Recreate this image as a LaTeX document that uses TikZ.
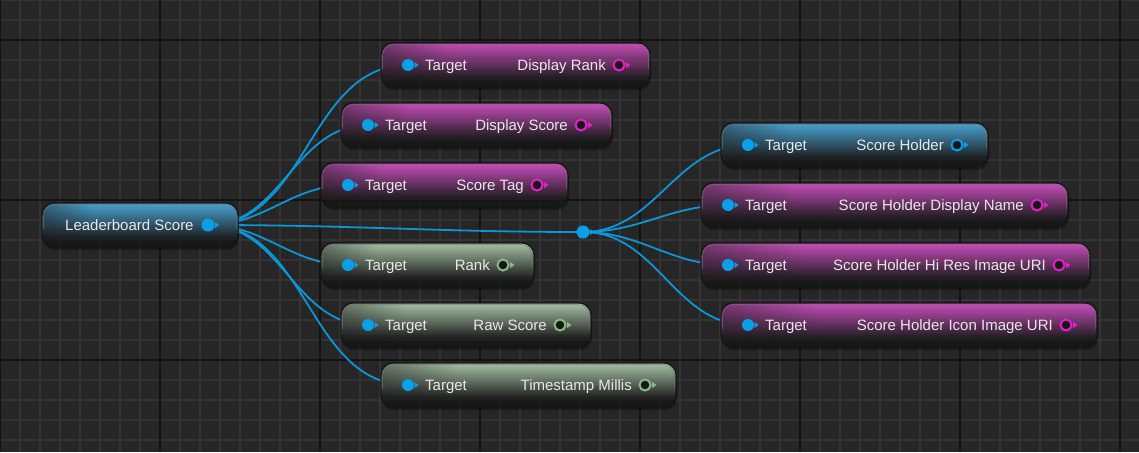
\documentclass[tikz,border=0pt]{standalone}
\usepackage{fontspec}
\setmainfont{Liberation Sans}
\usetikzlibrary{calc}

\definecolor{canvasbg}{RGB}{38,38,38}
\definecolor{gridminor}{RGB}{52,52,52}
\definecolor{gridmajor}{RGB}{19,19,19}
\definecolor{pinblue}{RGB}{10,160,232}
\definecolor{wireblue}{RGB}{12,150,215}
\definecolor{pinmag}{RGB}{228,30,200}
\definecolor{pingreen}{RGB}{135,185,135}
\definecolor{glowmag}{RGB}{200,78,188}
\definecolor{glowgreen}{RGB}{165,192,165}
\definecolor{glowblue}{RGB}{72,162,210}
\definecolor{bodyfill}{RGB}{24,24,24}
\definecolor{bandend}{RGB}{28,28,28}
\definecolor{pinhole}{RGB}{22,22,22}
\definecolor{labeltext}{RGB}{232,232,232}

% one row of the header band: glow colour in the middle, body colour at both ends
\colorlet{glowcol}{glowmag}
\pgfdeclarehorizontalshading[glowcol,bandend]{glowband}{100bp}{color(0bp)=(bandend); color(9bp)=(bandend); color(38bp)=(glowcol); color(84bp)=(glowcol); color(98bp)=(bandend); color(100bp)=(bandend)}

\pgfdeclarelayer{gridlayer}
\pgfdeclarelayer{wirelayer}
\pgfsetlayers{gridlayer,wirelayer,main}

\tikzset{
  nodebox/.style={draw=black!92, line width=1.2pt, fill=bodyfill, fill opacity=.75,
    rounded corners=12pt, minimum height=44pt, inner sep=0pt, outer sep=0pt},
  nodeshadow/.style={fill=black, opacity=.3, rounded corners=12pt},
  nodehl/.style={draw=white!45!black, line width=.8pt, opacity=.55, rounded corners=11pt},
  inpinstyle/.style={circle, fill=pinblue, minimum size=12pt, inner sep=0pt, outer sep=0pt},
  outpinstyle/.style={circle, fill=pinhole, minimum size=11pt, inner sep=0pt, outer sep=0pt, line width=2pt},
  reroutestyle/.style={circle, fill=pinblue, minimum size=13pt, inner sep=0pt, outer sep=0pt},
  lbl/.style={text=labeltext, inner sep=0pt, font=\fontsize{15}{18}\selectfont},
  wire/.style={draw=wireblue, line width=1.8pt, out=0, in=180},
}

% body of a blueprint node: #1 name, #2 left, #3 top, #4 right, #5 glow colour
\newcommand\nodebody[5]{%
  \pgfmathsetmacro\nbw{#4-#2}%
  \fill[nodeshadow] (#2+1,#3+3) rectangle (#4+1,#3+47);
  \node[nodebox, minimum width=\nbw pt, anchor=north west] (#1) at (#2,#3) {};
  \begin{scope}
    \clip[rounded corners=12pt] (#2+.6,#3+.6) rectangle (#4-.6,#3+43.4);
    \foreach \i [evaluate=\i as \k using {int(max(0,100-5.7*\i))}] in {0,...,17}{
      \colorlet{glowcol}{#5!\k!bandend}%
      \shade[shading=glowband] (#2,#3+2*\i) rectangle (#4,#3+2*\i+2.6);
    }
  \end{scope}
  \draw[nodehl] (#2+1.6,#3+26) -- (#2+1.6,#3+1.6) -- (#4-1.6,#3+1.6) -- (#4-1.6,#3+26);
}

% connected input pin with its arrow
\newcommand\inpin[2]{%
  \node[inpinstyle] (#1) at (#2) {};
  \fill[pinblue] ($(#1.center)+(6.5,-3)$) -- ++(4,3) -- ++(-4,3) -- cycle;
}
% open output pin: #1 name, #2 position, #3 colour
\newcommand\outpin[3]{%
  \node[outpinstyle, draw=#3] (#1) at (#2) {};
  \fill[#3] ($(#1.center)+(7,-3.2)$) -- ++(4.5,3.2) -- ++(-4.5,3.2) -- cycle;
}
% getter node: #1 name, #2 left, #3 top, #4 right, #5 glow colour, #6 pin colour, #7 output label
\newcommand\getter[7]{%
  \nodebody{#1}{#2}{#3}{#4}{#5}
  \inpin{#1-in}{#2+27,#3+22}
  \outpin{#1-out}{#4-31,#3+22}{#6}
  \node[lbl, anchor=base west] at ($(#1-in.center)+(17,5.5)$) {Target};
  \node[lbl, anchor=base east] at ($(#1-out.center)+(-13,5.5)$) {#7};
}

\begin{document}
\begin{tikzpicture}[x=1pt, y=-1pt]
\useasboundingbox (0,0) rectangle (1139,452);

\begin{pgfonlayer}{gridlayer}
  \fill[canvasbg] (0,0) rectangle (1139,452);
  \foreach \gx in {0,20,...,1139} \draw[gridminor, line width=1.6pt] (\gx,0) -- (\gx,452);
  \foreach \gy in {0,20,...,452} \draw[gridminor, line width=1.6pt] (0,\gy) -- (1139,\gy);
  \foreach \gx in {0,160,...,1139} \draw[gridmajor, line width=2.2pt] (\gx,0) -- (\gx,452);
  \foreach \gy in {40,200,360} \draw[gridmajor, line width=2.2pt] (0,\gy) -- (1139,\gy);
\end{pgfonlayer}

% source node
\nodebody{ls}{42}{203}{238}{glowblue}
\node[inpinstyle, minimum size=13pt] (ls-out) at (208,225) {};
\fill[pinblue] ($(ls-out.center)+(7,-3)$) -- ++(4,3) -- ++(-4,3) -- cycle;
\node[lbl, anchor=base west] at (65,230.5) {Leaderboard Score};

% getters on the leaderboard score
\getter{drank}{381}{43}{650}{glowmag}{pinmag}{Display Rank}
\getter{dscore}{341}{103}{612}{glowmag}{pinmag}{Display Score}
\getter{stag}{321}{163}{568}{glowmag}{pinmag}{Score Tag}
\getter{rank}{321}{243}{534}{glowgreen}{pingreen}{Rank}
\getter{raw}{341}{303}{591}{glowgreen}{pingreen}{Raw Score}
\getter{tstamp}{381}{363}{676}{glowgreen}{pingreen}{Timestamp Millis}

% reroute knot
\node[reroutestyle] (knot) at (583,232) {};
\fill[pinblue] ($(knot.center)+(7,-3)$) -- ++(4,3) -- ++(-4,3) -- cycle;

% getters on the score holder
\getter{sholder}{721}{123}{988}{glowblue}{pinblue}{Score Holder}
\getter{sdname}{701}{183}{1068}{glowmag}{pinmag}{Score Holder Display Name}
\getter{shires}{701}{243}{1090}{glowmag}{pinmag}{Score Holder Hi Res Image URI}
\getter{sicon}{721}{303}{1097}{glowmag}{pinmag}{Score Holder Icon Image URI}

\begin{pgfonlayer}{wirelayer}
  \foreach \dst in {drank,dscore,stag,rank,raw,tstamp}
    \draw[wire] (ls-out.center) to (\dst-in.center);
  \draw[wire] (ls-out.center) to (knot.center);
  \foreach \dst in {sholder,sdname,shires,sicon}
    \draw[wire] (knot.center) to (\dst-in.center);
\end{pgfonlayer}
\end{tikzpicture}
\end{document}
